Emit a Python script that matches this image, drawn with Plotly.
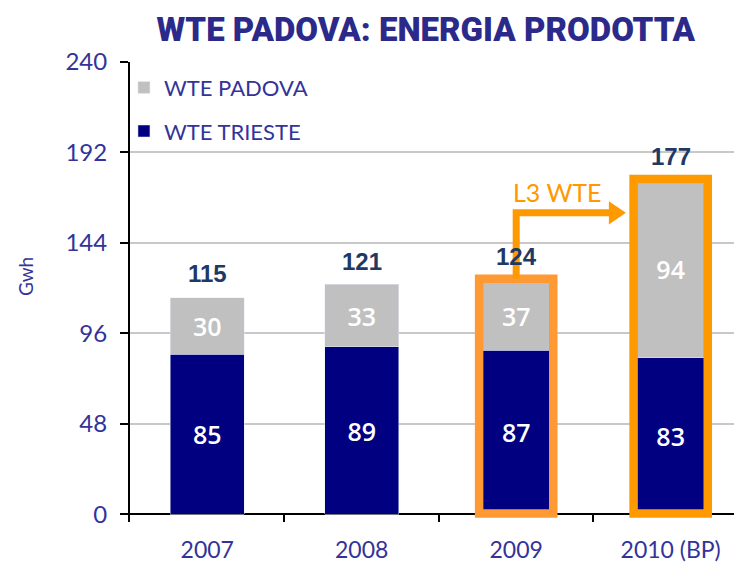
import plotly.graph_objects as go

years = ["2007", "2008", "2009", "2010 (BP)"]
trieste = [85, 89, 87, 83]
padova = [30, 33, 37, 94]
totals = [115, 121, 124, 177]
y_ticks = [0, 48, 96, 144, 192, 240]

NAVY = "#000080"
GRAY = "#C0C0C0"
TXT = "#333399"
ORANGE = "#FF9900"

fig = go.Figure()
fig.add_trace(go.Bar(
    x=years, y=trieste, name="WTE TRIESTE", marker_color=NAVY, width=0.48,
    text=trieste, textposition="inside", insidetextanchor="middle", textangle=0,
    textfont=dict(color="white", size=25, family="Open Sans", weight=600),
    legendgroup="t", legendrank=2))
fig.add_trace(go.Bar(
    x=years, y=padova, name="WTE PADOVA", marker_color=GRAY, width=0.48,
    text=padova, textposition="inside", insidetextanchor="middle", textangle=0,
    textfont=dict(color="white", size=25, family="Open Sans", weight=600),
    legendgroup="p", legendrank=1))

for i, tot in enumerate(totals):
    fig.add_annotation(x=i, y=tot, text=str(tot), showarrow=False, yanchor="bottom",
                       yshift=9, font=dict(family="Liberation Sans", size=24, color="#1F3864", weight="bold"))

# orange frames around 2009 and 2010
for i, col in [(2, "#FF9933"), (3, ORANGE)]:
    fig.add_shape(type="rect", xref="x", yref="y", x0=i - 0.24, x1=i + 0.24, y0=0.5, y1=totals[i] + 1,
                  line=dict(color=col, width=8.5), layer="above")

# elbow arrow
fig.add_shape(type="path", xref="x", yref="y",
              path=f"M 2,{totals[2] + 1} L 2,160 L 2.61,160",
              line=dict(color=ORANGE, width=7), layer="above")
fig.add_shape(type="path", xref="x", yref="y",
              path="M 2.6,166.2 L 2.71,160 L 2.6,153.8 Z",
              fillcolor=ORANGE, line=dict(color=ORANGE, width=0), layer="above")
fig.add_annotation(x=2.27, y=171, text="L3 WTE", showarrow=False,
                   font=dict(family="Lato", size=25, color=ORANGE))

fig.add_annotation(xref="paper", yref="y", x=-0.172, y=126, text="Gwh", textangle=-90,
                   xanchor="center", yanchor="middle",
                   showarrow=False, font=dict(family="Lato", size=19, color=TXT))

fig.update_layout(
    width=734, height=563,
    margin=dict(l=130, r=0, t=62, b=41),
    paper_bgcolor="white", plot_bgcolor="white",
    barmode="stack", bargap=0.52,
    title=dict(text="WTE PADOVA: ENERGIA PRODOTTA", x=0.58, xanchor="center",
               y=0.948, yanchor="middle",
               font=dict(family="Roboto", weight=900, size=33, color="#2B2A8A")),
    legend=dict(x=-0.01, y=0.99, xanchor="left", yanchor="top", traceorder="grouped",
                tracegroupgap=12, bgcolor="rgba(0,0,0,0)",
                font=dict(family="Lato", size=22, color=TXT)),
    xaxis=dict(type="category", range=[-0.5, 3.41], tickson="boundaries", ticks="inside",
               ticklen=8, tickwidth=2, tickcolor="black", showline=False, showgrid=False,
               tickfont=dict(family="Lato", size=23, color=TXT), ticklabelstandoff=12),
    yaxis=dict(range=[-4, 240], tickvals=y_ticks, showline=True, linecolor="black", linewidth=2,
               ticks="outside", ticklen=8, tickwidth=2, tickcolor="black",
               showgrid=True, gridcolor="#C8C8C8", gridwidth=1.5,
               zeroline=True, zerolinecolor="black", zerolinewidth=2,
               tickfont=dict(family="Lato", size=24, color=TXT), ticklabelstandoff=8),
)

fig.write_html("out.html", config={"displayModeBar": False},
               post_script="document.body.style.margin='0';")
